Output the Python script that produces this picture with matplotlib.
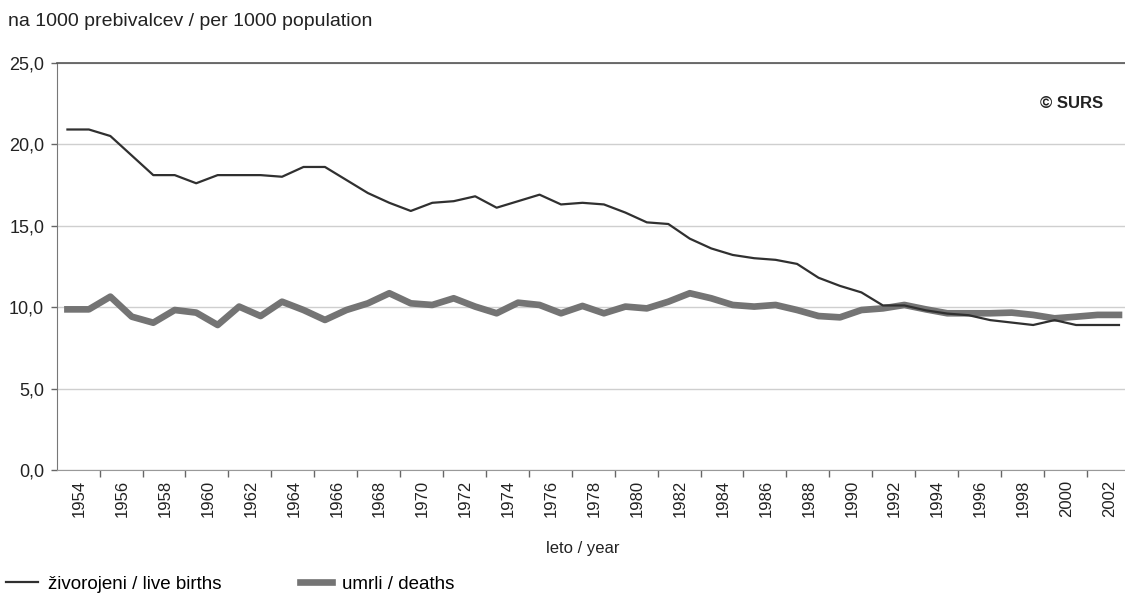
import matplotlib
matplotlib.use("Agg")
import matplotlib.pyplot as plt
import numpy as np

plt.rcParams['font.family'] = ['Liberation Sans', 'DejaVu Sans']

years = list(range(1954, 2004))
live_births = [20.9, 20.9, 20.5, 19.3, 18.1, 18.1, 17.6, 18.1, 18.1, 18.1,
               18.0, 18.6, 18.6, 17.8, 17.0, 16.4, 15.9, 16.4, 16.5, 16.8,
               16.1, 16.5, 16.9, 16.3, 16.4, 16.3, 15.8, 15.2, 15.1, 14.2,
               13.6, 13.2, 13.0, 12.9, 12.65, 11.8, 11.3, 10.9, 10.1, 10.1,
               9.8, 9.6, 9.5, 9.2, 9.05, 8.9, 9.2, 8.9, 8.9, 8.9]
deaths = [9.86, 9.86, 10.64, 9.41, 9.04, 9.82, 9.66, 8.9, 10.03, 9.45,
          10.33, 9.82, 9.21, 9.82, 10.23, 10.85, 10.23, 10.13, 10.54, 10.03,
          9.62, 10.27, 10.13, 9.62, 10.07, 9.62, 10.03, 9.92, 10.33, 10.85,
          10.54, 10.13, 10.03, 10.13, 9.82, 9.45, 9.37, 9.82, 9.92, 10.13,
          9.86, 9.62, 9.62, 9.62, 9.66, 9.52, 9.31, 9.41, 9.52, 9.52]
y_ticks = [0, 5, 10, 15, 20, 25]
y_labels = ["0,0", "5,0", "10,0", "15,0", "20,0", "25,0"]

W, H = 1125, 593
fig = plt.figure(figsize=(W / 100, H / 100), dpi=100)
fig.patch.set_facecolor('white')
ax = fig.add_axes([56.7 / W, 123 / H, 1073 / W, (470 - 62.7) / H])

x = np.arange(len(years))
l1, = ax.plot(x, live_births, color='#303030', lw=1.6, label='živorojeni / live births', zorder=4)
l2, = ax.plot(x, deaths, color='#747474', lw=4.8, label='umrli / deaths', zorder=3)

ax.set_xlim(-0.5, len(years) - 0.5)
ax.set_ylim(0, 25)

ax.set_yticks(y_ticks)
ax.set_yticklabels(y_labels, fontsize=13, color='#222222')
ax.yaxis.grid(True, color='#cfcfcf', lw=1.0, zorder=0)
ax.set_axisbelow(True)

# x ticks: marks at category boundaries every two years, labels every two years
ax.set_xticks(np.arange(1.5, len(years), 2))
ax.set_xticklabels([])
ax.set_xticks(np.arange(0, len(years), 2) + 0.55, minor=True)
ax.set_xticklabels([str(years[i]) for i in range(0, len(years), 2)], minor=True,
                   rotation=90, fontsize=12, color='#222222')
ax.tick_params(axis='x', which='major', direction='out', length=5, width=1, color='#666666')
ax.tick_params(axis='x', which='minor', length=0, pad=7)
ax.tick_params(axis='y', direction='out', length=4, width=1, color='#666666', pad=5)

ax.spines['right'].set_visible(False)
ax.spines['top'].set_color('#555555')
ax.spines['top'].set_linewidth(1.2)
ax.spines['left'].set_color('#777777')
ax.spines['bottom'].set_color('#999999')

fig.text(8 / W, 1 - 21 / H, 'na 1000 prebivalcev / per 1000 population', fontsize=14,
         color='#222222', va='center', ha='left')
fig.text(1103 / W, 1 - 103 / H, '© SURS', fontsize=12, fontweight='bold',
         color='#222222', va='center', ha='right')
fig.text(583 / W, 1 - 548 / H, 'leto / year', fontsize=12, color='#222222',
         va='center', ha='center')

fig.legend(handles=[l1, l2], loc='center left', bbox_to_anchor=(2 / W, 1 - 584 / H),
           ncol=2, frameon=False, fontsize=13.5, handlelength=1.7, columnspacing=4.2,
           handletextpad=0.55, borderaxespad=0, borderpad=0.2)

fig.savefig('out.png', dpi=100, facecolor='white')
